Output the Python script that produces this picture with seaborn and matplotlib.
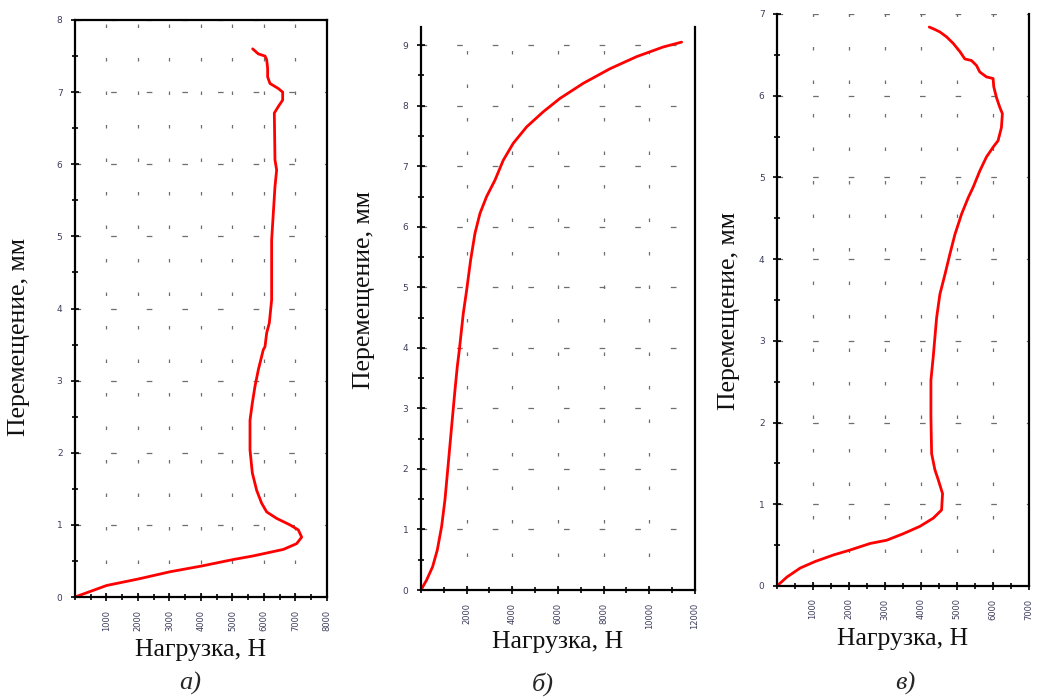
import numpy as np
import pandas as pd
import matplotlib
matplotlib.use("Agg")
import matplotlib.pyplot as plt
import seaborn as sns
from matplotlib.ticker import MultipleLocator

sns.set_theme(style="white")
plt.rcParams["font.family"] = ["Liberation Serif", "DejaVu Serif"]

# panel a) load / displacement
load_a = [0, 1005, 2011, 3016, 4021, 5026, 5661, 6085, 6614, 7037, 7196, 7090, 6825,
          6402, 6085, 5926, 5767, 5630, 5556, 5556, 5630, 5714, 5820, 5979, 6032, 6085,
          6169, 6243, 6243, 6296, 6349, 6402, 6349, 6328, 6455, 6593, 6593, 6455, 6190,
          6116, 6116, 6085, 6032, 5820, 5640]
disp_a = [0, 0.16, 0.25, 0.35, 0.43, 0.52, 0.57, 0.61, 0.66, 0.74, 0.83, 0.93, 1.0,
          1.09, 1.18, 1.30, 1.48, 1.72, 2.04, 2.45, 2.69, 2.92, 3.15, 3.43, 3.47, 3.66,
          3.80, 4.12, 4.95, 5.32, 5.69, 5.92, 6.06, 6.71, 6.80, 6.89, 7.0, 7.05, 7.12,
          7.21, 7.33, 7.45, 7.50, 7.53, 7.60]

# panel б)
load_b = [0, 248, 511, 715, 905, 1051, 1197, 1343, 1489, 1591, 1679, 1854, 2000, 2175,
          2365, 2584, 2876, 3241, 3606, 4044, 4628, 5358, 6088, 7110, 8277, 9445,
          10613, 11416]
disp_b = [0, 0.165, 0.385, 0.66, 1.05, 1.49, 2.09, 2.70, 3.30, 3.69, 3.96, 4.57, 4.95,
          5.45, 5.89, 6.22, 6.50, 6.77, 7.10, 7.38, 7.65, 7.90, 8.12, 8.37, 8.61, 8.81,
          8.97, 9.05]

# panel в)
load_c = [0, 277, 646, 1062, 1570, 2031, 2585, 3047, 3509, 3970, 4340, 4571, 4598,
          4478, 4386, 4294, 4275, 4275, 4340, 4432, 4524, 4663, 4801, 4940, 5125,
          5309, 5448, 5633, 5817, 6002, 6140, 6233, 6260, 6186, 6094, 6020, 6002,
          5817, 5633, 5540, 5402, 5217, 5079, 4894, 4709, 4524, 4386, 4229]
disp_c = [0, 0.11, 0.22, 0.30, 0.38, 0.44, 0.52, 0.56, 0.64, 0.73, 0.83, 0.93, 1.13,
          1.30, 1.42, 1.62, 2.07, 2.52, 2.81, 3.28, 3.57, 3.81, 4.06, 4.30, 4.55,
          4.75, 4.88, 5.08, 5.25, 5.37, 5.45, 5.61, 5.78, 5.86, 5.98, 6.11, 6.21,
          6.23, 6.29, 6.37, 6.43, 6.45, 6.54, 6.64, 6.72, 6.78, 6.81, 6.84]

panels = [
    # (x, y, rect, xlim, ylim, xmajor, xminor, top spine, ylabel pos, sub label)
    (load_a, disp_a, [0.0719, 0.1459, 0.2416, 0.8255], 8000, 8, 1000, 500, True,
     (-0.18, 0.45), "а)", 0.182),
    (load_b, disp_b, [0.4036, 0.1559, 0.2627, 0.8055], 12000, 9.3, 2000, 1000, False,
     (-0.168, 0.533), "б)", 0.52),
    (load_c, disp_c, [0.7450, 0.1617, 0.2416, 0.8183], 7000, 7, 1000, 500, False,
     (-0.147, 0.48), "в)", 0.868),
]

fig = plt.figure(figsize=(10.43, 6.99), dpi=100)
tick_col = "#3c3c5c"

for x, y, rect, xmax, ymax, xmaj, xmin, top, ylpos, sub, subx in panels:
    ax = fig.add_axes(rect)
    df = pd.DataFrame({"x": x, "y": y})
    sns.lineplot(data=df, x="x", y="y", sort=False, estimator=None, color="red",
                 linewidth=2.0, ax=ax)
    ax.set_xlim(0, xmax)
    ax.set_ylim(0, ymax)
    ax.xaxis.set_major_locator(MultipleLocator(xmaj))
    ax.xaxis.set_minor_locator(MultipleLocator(xmin))
    ax.yaxis.set_major_locator(MultipleLocator(1))
    ax.yaxis.set_minor_locator(MultipleLocator(0.5))
    ax.set_xticks([v for v in ax.get_xticks() if 0 < v <= xmax])
    ax.set_xticklabels([str(int(v)) for v in ax.get_xticks()], rotation=90,
                       fontsize=6, color=tick_col, family="DejaVu Sans")
    ax.set_yticks(range(0, int(ymax) + 1))
    ax.set_yticklabels([str(v) for v in range(0, int(ymax) + 1)], fontsize=6.5,
                       color=tick_col, family="DejaVu Sans")
    ax.tick_params(which="both", direction="inout", color="black", width=1.2,
                   left=True, bottom=True)
    ax.tick_params(which="major", length=6, pad=6)
    ax.tick_params(which="minor", length=5)

    # sparse dashed grid
    for yv in range(1, int(ymax) + 1):
        ax.axhline(yv, color="#6e6e6e", lw=0.9, ls=(0, (4.5, 24)), zorder=0)
    for xv in range(xmaj if xmaj == 1000 else 2000, xmax, 1000 if xmaj == 1000 else 2000):
        ax.axvline(xv, color="#6e6e6e", lw=0.9, ls=(0, (2.8, 24)), zorder=0)

    for s in ["left", "bottom", "right"]:
        ax.spines[s].set_color("black")
        ax.spines[s].set_linewidth(1.6)
    ax.spines["top"].set_visible(top)
    if top:
        ax.spines["top"].set_color("black")
        ax.spines["top"].set_linewidth(1.6)

    ax.set_xlabel("Нагрузка, Н", fontsize=18.5, color="#111111")
    ax.xaxis.set_label_coords(0.5, -0.073)
    ax.set_ylabel("Перемещение, мм", fontsize=18.5, color="#111111")
    ax.yaxis.set_label_coords(*ylpos)

    fig.text(subx, 0.022, sub, fontsize=19, style="italic", ha="center", va="center")

fig.savefig("out.png", dpi=100)
